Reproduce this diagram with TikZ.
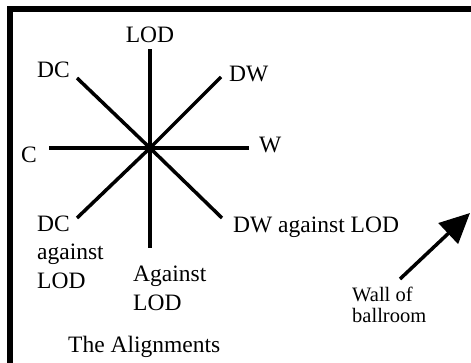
\documentclass[tikz,border=0pt]{standalone}
\usepackage{fontspec}
\setmainfont{Liberation Serif}
\usetikzlibrary{arrows.meta}
\begin{document}
\begin{tikzpicture}[x=1pt, y=-1pt,
    every node/.style={inner sep=0pt, font=\fontsize{23.5}{28.5}\selectfont},
    ray/.style={line width=3.5pt},
    lbl/.style={anchor=base west, align=left},
    smalllbl/.style={anchor=base west, align=left, font=\fontsize{20.5}{21}\selectfont}]
    \clip (0,0) rectangle (471,363);
    % frame of the page box
    \draw[line width=6pt] (10,380) -- (10,9.5) -- (480,9.5);
    % the eight alignments
    \coordinate (ctr) at (150,148);
    \coordinate (lod) at (150,49);
    \coordinate (alod) at (150,248);
    \coordinate (c) at (49,148);
    \coordinate (w) at (249,148);
    \coordinate (dc) at (77,78);
    \coordinate (dw) at (221,77);
    \coordinate (dcalod) at (77,218);
    \coordinate (dwalod) at (222,218);
    \foreach \e in {lod,alod,c,w,dc,dw,dcalod,dwalod}
      \draw[ray] (ctr) -- (\e);
    \node[anchor=base] (tlod) at (150,43) {LOD};
    \node[lbl] (tdc) at (37,78) {DC};
    \node[lbl] (tdw) at (229,82) {DW};
    \node[lbl] (tc) at (21,163) {C};
    \node[lbl] (tw) at (259,153) {W};
    % multi-line labels: base is the last line
    \node[lbl] (tdcalod) at (37,288) {DC\\against\\LOD};
    \node[lbl] (talod) at (133,310) {Against\\LOD};
    \node[lbl] (tdwalod) at (233,233) {DW against LOD};
    \node[lbl] (ttitle) at (68,352) {The Alignments};
    % wall of ballroom
    \node[smalllbl] (twall) at (352,323) {Wall of\\ballroom};
    \coordinate (wallfrom) at (400,279);
    \coordinate (wallto) at (470,213);
    \draw[line width=3.5pt, -{Triangle[length=30pt,width=28pt]}] (wallfrom) -- (wallto);
\end{tikzpicture}
\end{document}
